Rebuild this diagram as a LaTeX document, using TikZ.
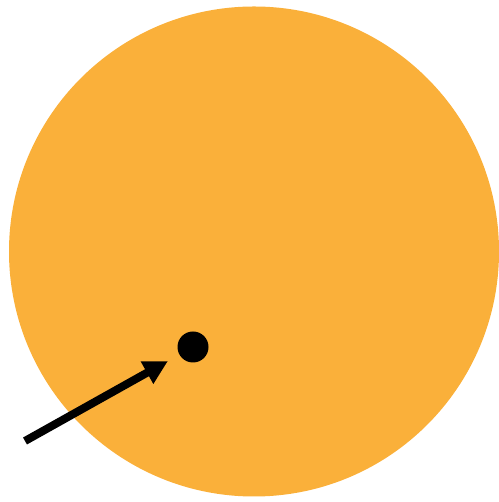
\documentclass[tikz,border=0pt]{standalone}
\usepackage{tikz}
\usetikzlibrary{
    positioning,                      % relative placement
    arrows.meta                       % Triangle tip
}
\definecolor{disc_orange}{RGB}{250,176,58}
\tikzset{
    disc/.style={
        circle, fill=disc_orange, draw=none,
        minimum size=490pt, inner sep=0pt
    },
    spot/.style={
        circle, fill=black, draw=none,
        minimum size=31pt, inner sep=0pt
    },
    pointer/.style={
        -{Triangle[length=24pt, width=24pt]}, line width=8pt,
        shorten >=13pt
    }
}

\begin{document}
\begin{tikzpicture}[x=1pt, y=1pt]

        % --- Marco ---
        \useasboundingbox (0,0) rectangle (498,502);

        % --- Disco y punto ---
        \node[disc] (disc) at (254,250.5) {};
        \node[spot] (spot) at (193,155) {};

        % --- Flecha ---
        \coordinate (tail) at (25,61);
        \draw[pointer] (tail) -- (spot);

\end{tikzpicture}
\end{document}
